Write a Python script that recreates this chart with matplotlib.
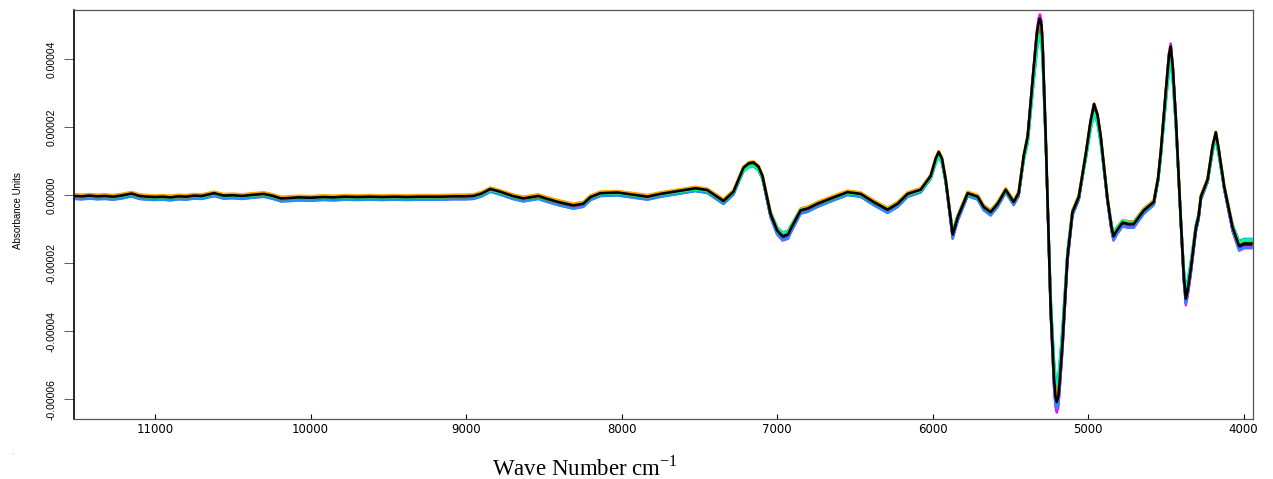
import matplotlib
matplotlib.use("Agg")
import matplotlib.pyplot as plt
import numpy as np

# Wavenumbers (cm^-1) and base spectrum values (x 1e-5 absorbance units)
wavenumber = [11520, 11470, 11420, 11370, 11320, 11270, 11220, 11150, 11100, 11050,
              11000, 10950, 10900, 10850, 10800, 10750, 10700, 10620, 10560, 10500,
              10440, 10380, 10300, 10240, 10190, 10140, 10080, 10000, 9920, 9850,
              9780, 9700, 9620, 9540, 9460, 9380, 9300, 9220, 9166, 9080,
              9000, 8954, 8900, 8844, 8780, 8700, 8632, 8535, 8480, 8400,
              8310, 8246, 8200, 8136, 8027, 7930, 7834, 7750, 7667, 7525,
              7450, 7345, 7281, 7216, 7180, 7152, 7120, 7094, 7042, 7000, 6965, 6930, 6914,
              6849, 6804, 6740, 6637, 6547, 6463, 6380, 6290, 6225, 6161,
              6077, 6013, 5980, 5961, 5940, 5916, 5871, 5839, 5775, 5710, 5672, 5627,
              5582, 5530, 5479, 5447, 5414, 5389, 5350, 5330, 5318, 5310, 5300, 5292,
              5273, 5241, 5220, 5210, 5202, 5192, 5185, 5165, 5133, 5101, 5060, 5015,
              4985, 4962, 4940, 4919, 4876, 4850, 4837, 4815, 4779, 4740,
              4707, 4642, 4578, 4550, 4533, 4500, 4480, 4469, 4455, 4436,
              4404, 4385, 4372, 4360, 4340, 4307, 4290, 4275, 4232, 4200,
              4179, 4160, 4125, 4071, 4029, 3997, 3950]
base = [-0.02, -0.03, -0.01, -0.03, -0.02, -0.04, -0.01, 0.05, -0.02, -0.04,
        -0.05, -0.04, -0.06, -0.03, -0.04, -0.01, -0.02, 0.06, -0.01, 0.00,
        -0.02, 0.01, 0.04, -0.02, -0.09, -0.08, -0.06, -0.07, -0.05, -0.06,
        -0.04, -0.05, -0.04, -0.05, -0.04, -0.05, -0.04, -0.04, -0.04, -0.03,
        -0.03, -0.02, 0.05, 0.18, 0.10, -0.02, -0.09, -0.02, -0.10, -0.20,
        -0.29, -0.24, -0.05, 0.06, 0.08, 0.02, -0.04, 0.04, 0.10, 0.20,
        0.15, -0.16, 0.10, 0.79, 0.92, 0.94, 0.82, 0.55, -0.53, -1.00, -1.17, -1.12, -0.97,
        -0.43, -0.38, -0.24, -0.06, 0.09, 0.04, -0.19, -0.41, -0.24, 0.04,
        0.16, 0.55, 1.05, 1.24, 1.05, 0.45, -1.12, -0.63, 0.06, -0.04, -0.33, -0.48,
        -0.24, 0.16, -0.19, 0.06, 1.14, 1.68, 3.64, 4.60, 4.95, 5.05, 4.85, 4.20,
        1.70, -3.20, -5.20, -5.75, -5.90, -5.75, -5.40, -4.20, -1.76, -0.48, -0.04, 1.19,
        2.10, 2.60, 2.30, 1.68, -0.09, -0.90, -1.17, -1.00, -0.78, -0.82,
        -0.82, -0.43, -0.19, 0.50, 1.24, 3.00, 4.00, 4.25, 3.60, 2.20,
        -0.73, -2.30, -2.95, -2.70, -2.10, -0.92, -0.60, -0.04, 0.45, 1.40,
        1.80, 1.30, 0.25, -0.92, -1.45, -1.38, -1.38]

# One entry per sample spectrum (black drawn last, on top)
series_colors = ['orange', 'gray', '#00FF00', 'cyan', 'magenta', 'yellow', 'blue',
                 '#FF8C00', '#32CD32', '#00CED1', '#FF00FF', '#FFD700', '#1E90FF',
                 '#808000', '#FFA500', '#00FA9A', 'black']
series_scale = [1.02, 0.97, 0.95, 0.93, 1.07, 1.04, 1.03, 0.99, 0.96, 0.92,
                1.06, 1.01, 1.05, 0.98, 1.00, 0.94, 1.03]
series_offset = [0.04, -0.02, -0.05, -0.03, -0.08, 0.02, -0.07, 0.03, -0.04, -0.01,
                 -0.06, 0.01, -0.09, -0.03, 0.05, -0.02, 0.00]

x_ticks = [11000, 10000, 9000, 8000, 7000, 6000, 5000, 4000]
y_ticks = [-0.00006, -0.00004, -0.00002, 0.0, 0.00002, 0.00004]
y_tick_labels = ['-0.00006', '-0.00004', '-0.00002', '0.00000', '0.00002', '0.00004']

W, H = 1273, 479
fig = plt.figure(figsize=(W / 100, H / 100), dpi=100)
ax = fig.add_axes([74 / W, 1 - 419 / H, (1253 - 74) / W, (419 - 10) / H])

wn = np.array(wavenumber)
b = np.array(base)
for c, s, o in zip(series_colors, series_scale, series_offset):
    ax.plot(wn, (b * s + o) * 1e-5, color=c, lw=1.7 if c != 'black' else 1.9,
            solid_joinstyle='round')

ax.set_xlim(11521, 3940)
ax.set_ylim(-0.0000658, 0.0000545)
ax.set_xticks(x_ticks)
ax.set_xticklabels([str(t) for t in x_ticks], fontsize=8.5, family='DejaVu Sans')
ax.set_yticks(y_ticks)
ax.set_yticklabels(y_tick_labels, rotation=90, va='center', fontsize=7.5,
                   family='Liberation Sans')
ax.tick_params(axis='x', direction='in', length=3.6, width=0.8, pad=3)
ax.tick_params(axis='y', direction='out', length=7.5, width=0.6, pad=5, color='#444444')

for side in ['top', 'right', 'bottom']:
    ax.spines[side].set_color('#555555')
    ax.spines[side].set_linewidth(0.9)
ax.spines['left'].set_color('black')
ax.spines['left'].set_linewidth(1.2)

fig.text(18 / W, 1 - 211 / H, 'Absorbance Units', rotation=90, ha='center', va='center',
         fontsize=7, family='Liberation Sans')
fig.text(585 / W, 1 - 468 / H, r'Wave Number cm$^{\mathregular{-1}}$', ha='center',
         va='center', fontsize=16.5, family='Liberation Serif')
fig.text(12 / W, 1 - 452 / H, '.', color='#999999', fontsize=5, ha='center', va='center')

fig.savefig('out.png', dpi=100)
